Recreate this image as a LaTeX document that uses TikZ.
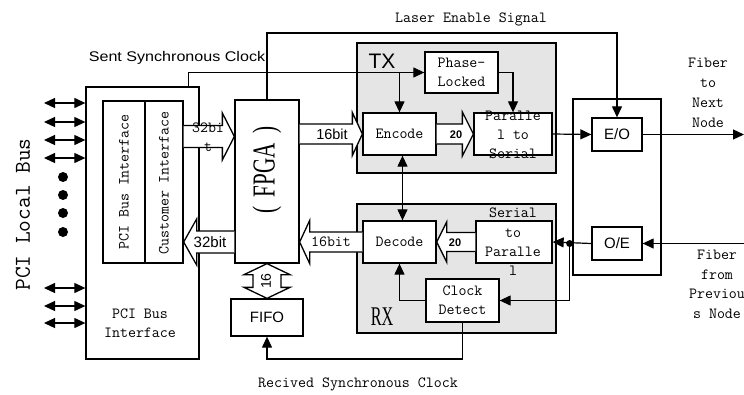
\documentclass[tikz,border=0pt]{standalone}
\usepackage{fontspec}
\setsansfont{Liberation Sans}
\newfontfamily\tms{Liberation Serif}
\usetikzlibrary{calc,arrows.meta}
\tikzset{
  ftip/.tip={Triangle[length=11pt,width=10pt]},
  ln/.style={line width=1.2pt},
  arr/.style={ln,-ftip},
  darr/.style={ln,ftip-ftip},
  bx/.style={draw,line width=1.3pt,inner sep=0pt,fill=white},
  grp/.style={draw,line width=1.5pt,fill=gray!20,inner sep=0pt},
  fat/.style={draw,line width=1.3pt,fill=white,line join=miter},
  mono/.style={font=\fontsize{15.5}{19.3}\selectfont\ttfamily,align=center,inner sep=0pt},
  sf/.style={font=\fontsize{15}{18}\selectfont\sffamily,inner sep=0pt},
}
\newcommand\fatarrow[5]{%
  \filldraw[fat] let \p1=#1, \p2=#2, \p3=($#2!#5!#1$) in
    (\x1,\y1+#3) -- (\x3,\y1+#3) -- (\x3,\y1+#4) -- (\x2,\y2) --
    (\x3,\y1-#4) -- (\x3,\y1-#3) -- (\x1,\y1-#3);}
\begin{document}
\begin{tikzpicture}[x=1pt,y=-1pt]
\useasboundingbox (0,0) rectangle (744,394);

% group boxes
\node[grp,minimum width=199pt,minimum height=130pt] (tx) at (456.5,108) {};
\node[grp,minimum width=199pt,minimum height=129pt] (rx) at (456.5,268.5) {};

% blocks
\node[draw,line width=1.3pt,inner sep=0pt,minimum width=113pt,minimum height=272pt] (pci) at (142.5,223) {};
\node[bx,minimum width=42pt,minimum height=162pt] (pbi) at (124,182) {};
\node[bx,minimum width=38pt,minimum height=162pt] (cif) at (164,182) {};
\node[bx,minimum width=64pt,minimum height=163pt] (fpga) at (267,181.5) {};
\node[bx,sf,minimum width=72pt,minimum height=37pt] (fifo) at (267,317.5) {FIFO};
\node[bx,mono,minimum width=73pt,minimum height=41pt] (pl) at (461.5,72.5) {Phase-\\Locked};
\node[bx,mono,minimum width=73pt,minimum height=42pt] (enc) at (399.5,134) {Encode};
\node[bx,minimum width=78pt,minimum height=42pt] (p2s) at (513,134) {};
\node[bx,mono,minimum width=73pt,minimum height=42pt] (dec) at (399.5,242) {Decode};
\node[bx,minimum width=76pt,minimum height=42pt] (s2p) at (514,242) {};
\node[bx,mono,minimum width=73pt,minimum height=43pt] (cd) at (462.5,300.5) {Clock\\Detect};
\node[draw,line width=1.3pt,inner sep=0pt,minimum width=88pt,minimum height=176pt] (oebox) at (617,187) {};
\node[bx,sf,minimum width=50pt,minimum height=33pt] (eo) at (617,134.5) {E/O};
\node[bx,sf,minimum width=50pt,minimum height=33pt] (oe) at (617,243.5) {O/E};

% texts inside / near blocks
\node[mono] (p2st) at (513,135) {Paralle\\l to\\Serial};
\node[mono] (s2pt) at (513,242) {Serial\\to\\Paralle\\l};
\node[mono,rotate=90] (pbit) at (124,182) {PCI Bus Interface};
\node[mono,rotate=90] (cift) at (164,183) {Customer Interface};
\node[mono] (pcit) at (140,323) {PCI Bus\\Interface};
\node[inner sep=0pt,font=\fontsize{32}{32}\selectfont\tms,rotate=90] (fpgat) at (267,170)
  {\scalebox{0.66}[1]{(\hspace{0.45em}FPGA\hspace{0.45em})}};
\node[inner sep=0pt,font=\fontsize{21}{21}\selectfont\sffamily] (txt) at (382,61) {TX};
\node[inner sep=0pt,font=\fontsize{27}{27}\selectfont\tms] (rxt) at (382,317) {\scalebox{0.6}[1]{RX}};
\node[mono,font=\fontsize{22.7}{26}\selectfont\ttfamily,rotate=90] (plb) at (23,214.5) {PCI Local Bus};

% PCI local bus arrows and dots
\foreach \yy/\nm in {103/a1,122/a2,140/a3,158/a4,288/a5,306/a6,323/a7}{
  \coordinate (\nm) at (44,\yy);
  \draw[darr] (\nm) -- (pci.west |- \nm);
}
\foreach \yy in {177,195,213,232} \fill (63,\yy) circle (5pt);

% fat arrows
\coordinate (b1s) at (cif.east |- 0,136.5);
\coordinate (b1e) at (fpga.west |- 0,136.5);
\fatarrow{(b1s)}{(b1e)}{11pt}{23.5pt}{12pt}
\coordinate (b2s) at (fpga.west |- 0,242);
\coordinate (b2e) at (cif.east |- 0,242);
\fatarrow{(b2s)}{(b2e)}{11pt}{23pt}{13pt}
\fatarrow{(fpga.east |- enc.west)}{(enc.west)}{10pt}{21.5pt}{10pt}
\fatarrow{(dec.west)}{(fpga.east |- dec.west)}{10pt}{21.5pt}{10pt}
\fatarrow{(enc.east)}{(p2s.west)}{10pt}{22pt}{11pt}
\fatarrow{(s2p.west)}{(dec.east)}{9.5pt}{20pt}{10pt}
\filldraw[fat] let \p1=(fpga.south), \p2=(fifo.north) in
  (\x1,\y1) -- (\x1+23pt,\y1-11pt) -- (\x1+14pt,\y1-11pt) -- (\x1+14pt,\y2+11pt) --
  (\x1+23pt,\y2+11pt) -- (\x2,\y2) -- (\x1-23pt,\y2+11pt) -- (\x1-14pt,\y2+11pt) --
  (\x1-14pt,\y1-11pt) -- (\x1-23pt,\y1-11pt) -- cycle;

% fat arrow labels
\node[mono] (l32a) at (208,137) {32bi\\t};
\node[inner sep=0pt,font=\fontsize{15}{18}\selectfont\sffamily] (l32b) at (210,242) {32bit};
\node[inner sep=0pt,font=\fontsize{14.5}{18}\selectfont\sffamily] (l16a) at (332,134) {16bit};
\node[mono] (l16b) at (331,242) {16bit};
\node[inner sep=0pt,font=\fontsize{11}{13}\selectfont\sffamily\bfseries] (l20a) at (456,135) {20};
\node[inner sep=0pt,font=\fontsize{11}{13}\selectfont\sffamily\bfseries] (l20b) at (455,243) {20};
\node[inner sep=0pt,font=\fontsize{14}{16}\selectfont\sffamily,rotate=90] (l16c) at (266,281) {16};

% signal lines
\draw[arr] ($(pci.north east)+(-11,0)$) |- (pl.west);
\draw[arr] (enc.north |- pl.west) -- (enc.north);
\draw[arr] (pl.east) -| (p2s.north);
\draw[arr] (fpga.north) |- (eo.north |- 0,33) -- (eo.north);
\draw[arr] (p2s.east) -- (eo.west);
\coordinate (fibout) at (744,134.5);
\draw[arr] (eo.east) -- (fibout);
\coordinate (fibin) at (745,243.5);
\draw[arr] (fibin) -- (oe.east);
\draw[arr] (oe.west) -- (s2p.east);
\coordinate (jn) at ($(s2p.east |- oe.west)+(17,0)$);
\fill (jn) circle (3.5pt);
\draw[arr] (jn) |- (cd.east);
\draw[arr] (cd.west) -| (dec.south);
\draw[darr] ([xshift=3pt]enc.south) -- ([xshift=3pt]dec.north);
\draw[arr] (cd.south) -- (cd.south |- 0,359) -| (fifo.south);

% free texts
\node[inner sep=0pt,font=\fontsize{14}{16}\selectfont\sffamily] (ssc) at (177,58) {\scalebox{1.15}[1]{Sent Synchronous Clock}};
\node[mono] (les) at (471,19) {Laser Enable Signal};
\node[mono] (rsc) at (358,384) {Recived Synchronous Clock};
\node[mono,font=\fontsize{15.5}{20}\selectfont\ttfamily] (fnext) at (708,93) {Fiber\\to\\Next\\Node};
\node[mono,font=\fontsize{15.5}{19.5}\selectfont\ttfamily] (fprev) at (717,284.5) {Fiber\\from\\Previou\\s Node};
\end{tikzpicture}
\end{document}
